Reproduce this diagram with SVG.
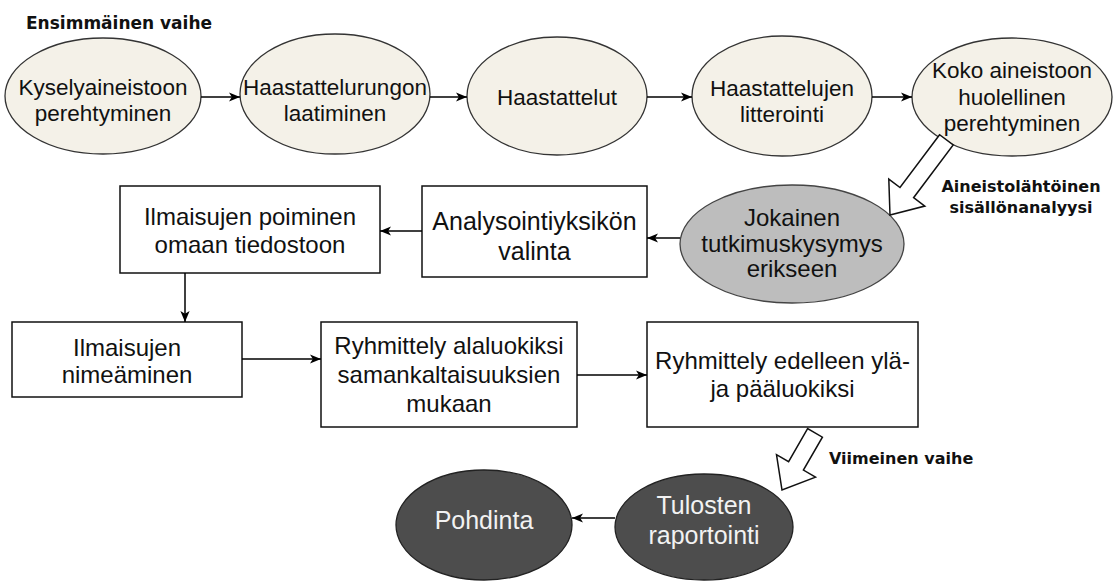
<svg xmlns="http://www.w3.org/2000/svg" width="1117" height="581" viewBox="0 0 1117 581">
<defs>
<marker id="ah" viewBox="0 0 10 10" refX="10" refY="5" markerWidth="11" markerHeight="11" orient="auto" markerUnits="userSpaceOnUse">
<path d="M0,0.8 L10,5 L0,9.2 L2.6,5 z" fill="#000"/>
</marker>
<style>
.t{font-family:"Liberation Sans",Arial,Helvetica,sans-serif;fill:#111;text-anchor:middle}
.w{fill:#f2f2f2}
.c{font-family:"DejaVu Sans","Liberation Sans",sans-serif;font-weight:bold;fill:#111}
.be{fill:#f4f1e8;stroke:#333;stroke-width:1.3}
.gr{fill:#bdbdbd;stroke:#444;stroke-width:1.3}
.dk{fill:#4d4d4d;stroke:#222;stroke-width:1.3}
.bx{fill:#fff;stroke:#111;stroke-width:1.5}
.ln{fill:none;stroke:#000;stroke-width:1.5}
.ba{fill:#fff;stroke:#111;stroke-width:1.5;stroke-linejoin:miter}
</style>
</defs>
<rect width="1117" height="581" fill="#fff"/>

<text class="c" x="26" y="29" font-size="17">Ensimmäinen vaihe</text>

<g id="n1"><ellipse class="be" cx="103" cy="96" rx="98" ry="58"/>
<text class="t" font-size="22.5"><tspan x="103" y="95">Kyselyaineistoon</tspan><tspan x="103" y="121">perehtyminen</tspan></text></g>
<g id="n2"><ellipse class="be" cx="335" cy="94" rx="95" ry="60"/>
<text class="t" font-size="22.5"><tspan x="335" y="95">Haastattelurungon</tspan><tspan x="335" y="121">laatiminen</tspan></text></g>
<g id="n3"><ellipse class="be" cx="557" cy="96" rx="90" ry="59"/>
<text class="t" font-size="22.5" x="557" y="105">Haastattelut</text></g>
<g id="n4"><ellipse class="be" cx="782" cy="96" rx="90" ry="60"/>
<text class="t" font-size="22.5"><tspan x="782" y="96">Haastattelujen</tspan><tspan x="782" y="122">litterointi</tspan></text></g>
<g id="n5"><ellipse class="be" cx="1012" cy="97" rx="100" ry="59"/>
<text class="t" font-size="22.5"><tspan x="1012" y="78">Koko aineistoon</tspan><tspan x="1012" y="105">huolellinen</tspan><tspan x="1012" y="131">perehtyminen</tspan></text></g>

<g id="n6"><ellipse class="gr" cx="792" cy="244" rx="112" ry="59"/>
<text class="t" font-size="24"><tspan x="792" y="225.5">Jokainen</tspan><tspan x="792" y="251.5">tutkimuskysymys</tspan><tspan x="792" y="277">erikseen</tspan></text></g>
<g id="n7"><rect class="bx" x="422" y="186" width="225" height="91"/>
<text class="t" font-size="25"><tspan x="534.5" y="230">Analysointiyksikön</tspan><tspan x="534.5" y="260">valinta</tspan></text></g>
<g id="n8"><rect class="bx" x="120" y="186" width="260" height="87"/>
<text class="t" font-size="24"><tspan x="250" y="224.5">Ilmaisujen poiminen</tspan><tspan x="250" y="252.5">omaan tiedostoon</tspan></text></g>

<g id="n9"><rect class="bx" x="12" y="322" width="230" height="75"/>
<text class="t" font-size="24"><tspan x="127" y="355.5">Ilmaisujen</tspan><tspan x="127" y="382.5">nimeäminen</tspan></text></g>
<g id="n10"><rect class="bx" x="321" y="322" width="256" height="105"/>
<text class="t" font-size="24"><tspan x="449" y="353.5">Ryhmittely alaluokiksi</tspan><tspan x="449" y="382.5">samankaltaisuuksien</tspan><tspan x="449" y="411.5">mukaan</tspan></text></g>
<g id="n11"><rect class="bx" x="647" y="322" width="271" height="105"/>
<text class="t" font-size="24"><tspan x="782.5" y="368.5">Ryhmittely edelleen ylä-</tspan><tspan x="782.5" y="396.5">ja pääluokiksi</tspan></text></g>

<g id="n12"><ellipse class="dk" cx="704" cy="527" rx="89" ry="53"/>
<text class="t w" font-size="25"><tspan x="704" y="514">Tulosten</tspan><tspan x="704" y="544">raportointi</tspan></text></g>
<g id="n13"><ellipse class="dk" cx="484" cy="525" rx="88" ry="55"/>
<text class="t w" font-size="25" x="484" y="529">Pohdinta</text></g>

<g id="connectors">
<line class="ln" x1="201" y1="97" x2="240" y2="97" marker-end="url(#ah)"/>
<line class="ln" x1="430" y1="97" x2="467" y2="97" marker-end="url(#ah)"/>
<line class="ln" x1="647" y1="97" x2="692" y2="97" marker-end="url(#ah)"/>
<line class="ln" x1="872" y1="97" x2="912" y2="97" marker-end="url(#ah)"/>
<polygon class="ba" points="939.6,134.7 900,187.5 888.8,179.1 890,215 924.8,206.1 913.6,197.7 953.2,144.9"/>
<line class="ln" x1="680" y1="238" x2="647" y2="238" marker-end="url(#ah)"/>
<line class="ln" x1="422" y1="231" x2="380" y2="231" marker-end="url(#ah)"/>
<line class="ln" x1="185" y1="273" x2="185" y2="322" marker-end="url(#ah)"/>
<line class="ln" x1="242" y1="359" x2="321" y2="359" marker-end="url(#ah)"/>
<line class="ln" x1="577" y1="375" x2="647" y2="375" marker-end="url(#ah)"/>
<polygon class="ba" points="807.6,428.6 788.6,461.6 776.5,454.6 782,490 815.5,477.1 803.4,470.1 822.4,437.2"/>
<line class="ln" x1="615" y1="518" x2="572" y2="518" marker-end="url(#ah)"/>
</g>

<text class="c" font-size="16" text-anchor="middle"><tspan x="1021" y="192">Aineistolähtöinen</tspan><tspan x="1021" y="213">sisällönanalyysi</tspan></text>
<text class="c" x="829" y="464" font-size="16">Viimeinen vaihe</text>
</svg>
